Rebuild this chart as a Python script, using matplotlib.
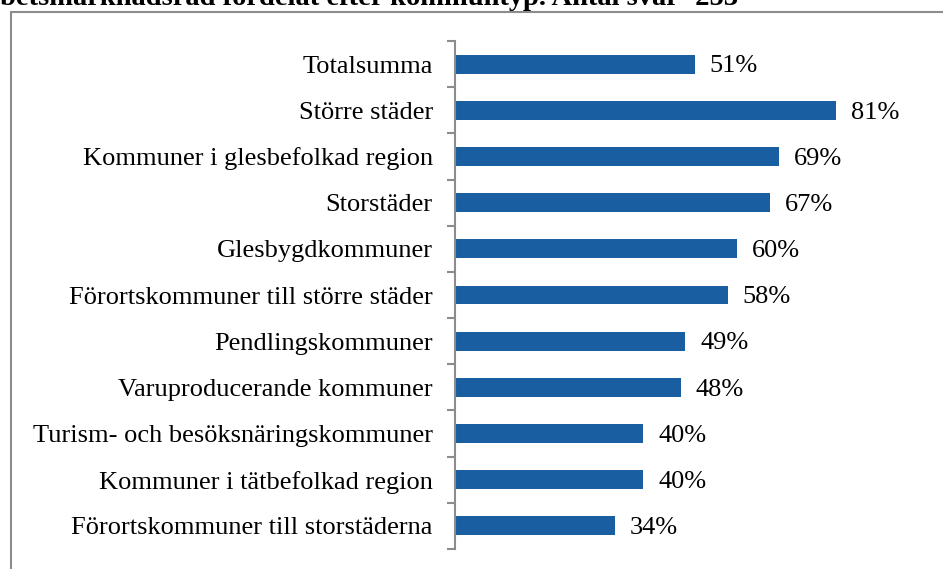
import numpy as np
import matplotlib.pyplot as plt
from matplotlib.patches import Rectangle

plt.rcParams['font.family'] = ['Liberation Serif', 'DejaVu Serif']

categories = ["Totalsumma", "Större städer", "Kommuner i glesbefolkad region",
              "Storstäder", "Glesbygdkommuner", "Förortskommuner till större städer",
              "Pendlingskommuner", "Varuproducerande kommuner",
              "Turism- och besöksnäringskommuner", "Kommuner i tätbefolkad region",
              "Förortskommuner till storstäderna"]
values = [51, 81, 69, 67, 60, 58, 49, 48, 40, 40, 34]
title = "betsmarknadsråd fördelat efter kommuntyp. Antal svar=253"

W, H = 943, 569
fig = plt.figure(figsize=(W / 100, H / 100), dpi=100)

# cut-off title line at the very top (the page continues above)
fig.text(0 / W, 1 - 5 / H, title, fontsize=20.5, fontweight='bold', ha='left', va='baseline')

# chart frame (runs off the right and bottom edge)
fig.patches.append(Rectangle((11 / W, -0.05), 1.0, 1 - 12 / H + 0.05, transform=fig.transFigure,
                             fill=False, ec='#8c8c8c', lw=1.5))

ax = fig.add_axes([455 / W, 1 - 549 / H, 470 / W, 508 / H])
n = len(categories)
y = np.arange(n)
ax.barh(y, values, height=0.41, color='#1a5ea2')
ax.set_xlim(0, 100)
ax.set_ylim(n - 0.5, -0.5)

for yi, v in zip(y, values):
    ax.text(v + 3.2, yi + 0.05, "%d%%" % v, fontsize=19, va='center', ha='left')

ax.set_yticks(y)
ax.set_yticklabels(categories, fontsize=19)
ax.set_yticks(np.arange(n + 1) - 0.5, minor=True)
ax.tick_params(axis='y', which='major', length=0, pad=16)
ax.tick_params(axis='y', which='minor', length=6, width=1.5, color='#8c8c8c', direction='out')
ax.set_xticks([])
for s in ['top', 'right', 'bottom']:
    ax.spines[s].set_visible(False)
ax.spines['left'].set_color('#8c8c8c')
ax.spines['left'].set_linewidth(1.5)
ax.patch.set_alpha(0)

fig.savefig("out.png", dpi=100)
